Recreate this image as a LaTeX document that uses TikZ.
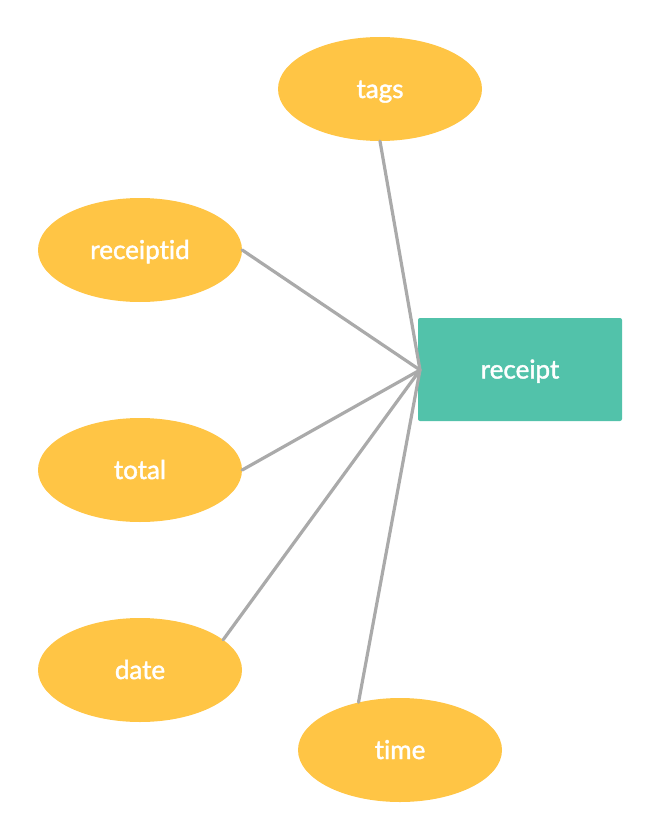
\documentclass[tikz,border=0pt]{standalone}
\usepackage{fontspec}
\setmainfont[Ligatures=NoCommon,FakeBold=1.6]{Lato}
\usetikzlibrary{shapes.geometric}
\definecolor{attr}{HTML}{FFC545}
\definecolor{ent}{HTML}{52C2AA}
\definecolor{conn}{HTML}{AAAAAA}
\begin{document}
\begin{tikzpicture}[x=1pt,y=-1pt,
  lbl/.style={text=white,text height=22pt,text depth=4pt,font=\fontsize{26}{28}\selectfont},
  attrnode/.style={lbl,ellipse,fill=attr,minimum width=204pt,minimum height=104pt,inner sep=0pt},
  entnode/.style={lbl,rectangle,rounded corners=2pt,fill=ent,minimum width=204pt,minimum height=103pt,inner sep=0pt},
  link/.style={draw=conn,line width=3.2pt,line cap=round}]
\useasboundingbox (0,0) rectangle (660,840);
\node[attrnode] (tags) at (380,89) {tags};
\node[attrnode] (receiptid) at (140,250) {receiptid};
\node[attrnode] (total) at (140,470) {total};
\node[attrnode] (date) at (140,670) {date};
\node[attrnode] (time) at (400,750) {time};
\node[entnode] (receipt) at (520,369.5) {receipt};
\coordinate (hub) at (420,370);
\draw[link] (tags.south) -- (hub);
\draw[link] (receiptid.east) -- (hub);
\draw[link] (total.east) -- (hub);
\draw[link] (date.20) -- (hub);
\draw[link] (time.131) -- (hub);
\end{tikzpicture}
\end{document}
